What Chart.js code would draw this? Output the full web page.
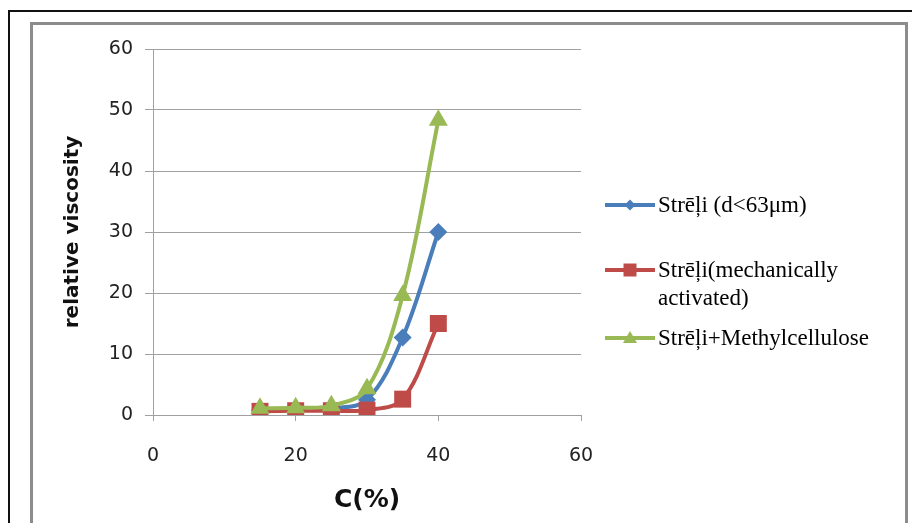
<!DOCTYPE html>
<html>
<head>
<meta charset="utf-8">
<script src="https://cdn.jsdelivr.net/npm/chart.js@4.4.1/dist/chart.umd.min.js"></script>
<style>
  html, body { margin: 0; padding: 0; background: #fff; }
  #page { position: relative; width: 912px; height: 523px; overflow: hidden; }
  #outer { position: absolute; left: 8px; top: 10px; width: 960px; height: 600px; border-left: 2px solid #111; border-top: 2px solid #111; }
  #inner { position: absolute; left: 30px; top: 22px; width: 872px; height: 600px; border: 3px solid #8c8c8c; }
  #wrap { position: absolute; left: 0; top: 0; width: 912px; height: 523px; }
</style>
</head>
<body>
<div id="page">
  <div id="outer"></div>
  <div id="inner"></div>
  <div id="wrap"><canvas id="viscChart"></canvas></div>
</div>
<script>
// ---- data ----
const concentrations = [15, 20, 25, 30, 35, 40];
const fineValues = [0.8, 0.9, 1.1, 2.5, 12.7, 30];
const activatedValues = [0.6, 0.7, 0.7, 0.8, 2.6, 15];
const methylValues = [1.1, 1.2, 1.5, 4.3, 19.6, 48.3];
const xTicks = [0, 20, 40, 60];
const yTicks = [0, 10, 20, 30, 40, 50, 60];
const seriesLabels = [
  ["Strēļi (d<63μm)"],
  ["Strēļi(mechanically", "activated)"],
  ["Strēļi+Methylcellulose"]
];

const COLORS = { blue: "#4a7ebb", red: "#be4b48", green: "#98b954" };

const toPoints = vals => concentrations.map((c, i) => ({ x: c, y: vals[i] }));

// legend on the right, drawn by hand like the Excel one
const sideLegend = {
  id: "sideLegend",
  afterDraw(chart) {
    const ctx = chart.ctx;
    const rows = [205, 270, 338];
    const styles = ["diamond", "square", "triangle"];
    ctx.save();
    chart.data.datasets.forEach((ds, i) => {
      const y = rows[i];
      ctx.strokeStyle = ds.borderColor;
      ctx.lineWidth = 4;
      ctx.beginPath();
      ctx.moveTo(605, y);
      ctx.lineTo(655, y);
      ctx.stroke();
      ctx.fillStyle = ds.borderColor;
      ctx.beginPath();
      if (styles[i] === "diamond") {
        ctx.moveTo(630, y - 5.5); ctx.lineTo(635.5, y); ctx.lineTo(630, y + 5.5); ctx.lineTo(624.5, y);
      } else if (styles[i] === "square") {
        ctx.rect(623.5, y - 6.5, 13, 13);
      } else {
        ctx.moveTo(630, y - 7); ctx.lineTo(637, y + 5); ctx.lineTo(623, y + 5);
      }
      ctx.closePath();
      ctx.fill();
      ctx.fillStyle = "#000";
      ctx.font = "23px 'Liberation Serif'";
      ctx.textBaseline = "middle";
      seriesLabels[i].forEach((line, k) => ctx.fillText(line, 658, y + 1 + k * 28));
    });
    ctx.restore();
  }
};

new Chart(document.getElementById("viscChart"), {
  type: "scatter",
  data: {
    datasets: [
      { label: seriesLabels[0].join(" "), data: toPoints(fineValues), borderColor: COLORS.blue, backgroundColor: COLORS.blue,
        pointStyle: "rectRot", pointRadius: 9, order: 3 },
      { label: seriesLabels[1].join(" "), data: toPoints(activatedValues), borderColor: COLORS.red, backgroundColor: COLORS.red,
        pointStyle: "rect", pointRadius: 12, order: 2 },
      { label: seriesLabels[2].join(" "), data: toPoints(methylValues), borderColor: COLORS.green, backgroundColor: COLORS.green,
        pointStyle: "triangle", pointRadius: 11, order: 1 }
    ].map(ds => Object.assign(ds, { showLine: true, borderWidth: 4, tension: 0.35, pointBorderWidth: 0, pointHoverRadius: ds.pointRadius }))
  },
  options: {
    responsive: true,
    maintainAspectRatio: false,
    animation: false,
    layout: { padding: { left: 57, top: 49, right: 331, bottom: 4 } },
    plugins: { legend: { display: false }, tooltip: { enabled: false } },
    scales: {
      x: {
        type: "linear", min: 0, max: 60,
        afterBuildTicks: s => { s.ticks = xTicks.map(v => ({ value: v })); },
        afterFit: s => { s.height = 104; },
        grid: { drawOnChartArea: false, drawTicks: true, tickLength: 6, color: "#a0a0a0" },
        border: { display: true, color: "#a0a0a0" },
        ticks: { padding: 24, color: "#222", font: { family: "'DejaVu Sans'", size: 19 } },
        title: { display: true, text: "C(%)", color: "#111", padding: 4, font: { family: "'DejaVu Sans'", size: 25, weight: "bold" } }
      },
      y: {
        type: "linear", min: 0, max: 60,
        afterBuildTicks: s => { s.ticks = yTicks.map(v => ({ value: v })); },
        afterFit: s => { s.width = 96; },
        grid: { drawOnChartArea: true, drawTicks: true, tickLength: 8, color: "#a0a0a0" },
        border: { display: true, color: "#a0a0a0" },
        ticks: { padding: 12, color: "#222", font: { family: "'DejaVu Sans'", size: 19 } },
        title: { display: true, text: "relative viscosity", color: "#111", padding: 4, font: { family: "'DejaVu Sans'", size: 20, weight: "bold" } }
      }
    }
  },
  plugins: [sideLegend]
});
</script>
</body>
</html>
